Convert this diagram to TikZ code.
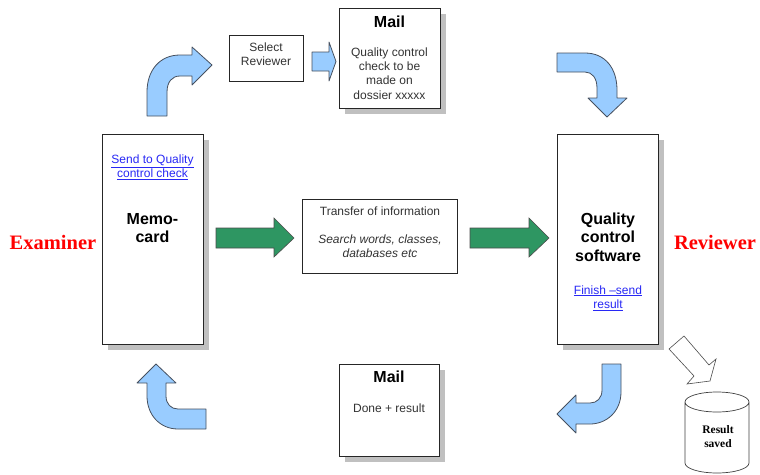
\documentclass[tikz,border=0pt]{standalone}
\usepackage{fontspec}
\setmainfont{Liberation Sans}
\newfontfamily\serifb{Liberation Serif}
\usetikzlibrary{shadows,shapes.geometric}
\definecolor{flow}{RGB}{153,204,255}
\definecolor{flowedge}{RGB}{70,80,95}
\definecolor{go}{RGB}{46,150,98}
\definecolor{shade}{RGB}{192,192,192}
\definecolor{lnk}{RGB}{40,40,245}
\tikzset{
  x=1pt,y=-1pt,
  boxsh/.style={draw=black!85,fill=white,line width=0.7pt,rectangle,inner sep=0pt,anchor=north west},
  shadowed/.style={boxsh,drop shadow={shadow xshift=6pt,shadow yshift=-6pt,fill=shade,opacity=1}},
  flowarrow/.style={draw=flowedge,fill=flow,line width=0.8pt,line join=round},
  goarrow/.style={draw=black!70,fill=go,line width=0.6pt},
  txt/.style={font=\fontsize{12}{14.3}\selectfont,align=center,text=black!80},
  head/.style={font=\fontsize{16}{18.5}\selectfont\bfseries,align=center},
  role/.style={font=\fontsize{20.5}{22}\selectfont\serifb\bfseries,text=red},
}
\begin{document}
\begin{tikzpicture}
\useasboundingbox (0,0) rectangle (760,474);
\node[shadowed,minimum width=100.5pt,minimum height=210pt] (memo) at (102,134) {};
\node[shadowed,minimum width=100.5pt,minimum height=210pt] (qc) at (557,134) {};
\node[shadowed,minimum width=100.5pt,minimum height=100pt] (mailtop) at (339,8) {};
\node[shadowed,minimum width=100pt,minimum height=92pt] (mailbot) at (339,364) {};
\node[boxsh,minimum width=74pt,minimum height=46pt] (select) at (229,35) {};
\node[boxsh,minimum width=155pt,minimum height=74pt] (info) at (302,199) {};
\node[txt] (selecttext) at (266,54) {Select\\Reviewer};
\node[head] (mailhead) at (389.5,21.5) {Mail};
\node[txt] (mailtext) at (389.5,73.5) {Quality control\\check to be\\made on\\dossier xxxxx};
\node[head] (mailhead2) at (389,377) {Mail};
\node[txt] (mailtext2) at (389,408) {Done + result};
\node[txt,text=lnk] (send) at (152.5,167) {\underline{Send to Quality}\\\underline{control check}};
\node[head] (memotext) at (152.5,228) {Memo-\\card};
\node[txt] (infotitle) at (380,211) {Transfer of information};
\node[txt,font=\fontsize{12}{14.3}\selectfont\itshape] (infotext) at (380,246.5) {Search words, classes,\\databases etc};
\node[head] (qctext) at (608,237) {Quality\\control\\software};
\node[txt,text=lnk] (finish) at (608,298) {\underline{Finish –send}\\\underline{result}};
\node[role] (examiner) at (53,242) {Examiner};
\node[role] (reviewer) at (715,242) {Reviewer};
% bent arrows
\path[flowarrow] (147,116) -- (147,92) .. controls (147,70) and (160,55) .. (180,55) -- (192,55) -- (192,47) -- (212,65) -- (192,85) -- (192,76) -- (180,76) .. controls (172,76) and (167,82) .. (167,92) -- (167,116) -- cycle;
\path[flowarrow] (312,52) -- (329,52) -- (329,42) -- (336,61.5) -- (329,81) -- (329,71) -- (312,71) -- cycle;
\path[flowarrow] (557,53) -- (585,53) .. controls (605,53) and (617,68) .. (617,90) -- (617,98) -- (627,98) -- (607,117) -- (588,98) -- (597,98) -- (597,88) .. controls (597,78) and (592,72) .. (585,72) -- (557,72) -- cycle;
\path[flowarrow] (621,364) -- (621,392) .. controls (621,412) and (606,424) .. (590,424) -- (576,424) -- (576,433) -- (557,414) -- (576,395) -- (576,403) -- (590,403) .. controls (597,403) and (602,398) .. (602,390) -- (602,364) -- cycle;
\path[flowarrow] (206,409) -- (178,409) .. controls (171,409) and (166,404) .. (166,396) -- (166,383) -- (176,383) -- (156,364) -- (137,383) -- (147,383) -- (147,396) .. controls (147,415) and (160,429) .. (178,429) -- (206,429) -- cycle;
% green arrows
\path[goarrow] (216,228) -- (274,228) -- (274,218) -- (294,238) -- (274,257) -- (274,248) -- (216,248) -- cycle;
\path[goarrow] (470,228) -- (529,228) -- (529,218) -- (549,238) -- (529,257) -- (529,248) -- (470,248) -- cycle;
% white arrow
\path[draw=black!70,fill=white,line width=0.6pt] (669,349) -- (684,336) -- (709,365) -- (716,359) -- (710,381) -- (687,384) -- (694,376) -- cycle;
% cylinder
\path[draw=black!75,fill=white,line width=0.7pt] (685,402) -- (685,463) arc[start angle=180,end angle=360,x radius=32pt,y radius=10pt] -- (749,402) arc[start angle=0,end angle=360,x radius=32pt,y radius=10pt];
\node[font=\fontsize{11.5}{14}\selectfont\serifb\bfseries,align=center] (saved) at (718,437) {Result\\saved};
\end{tikzpicture}
\end{document}
